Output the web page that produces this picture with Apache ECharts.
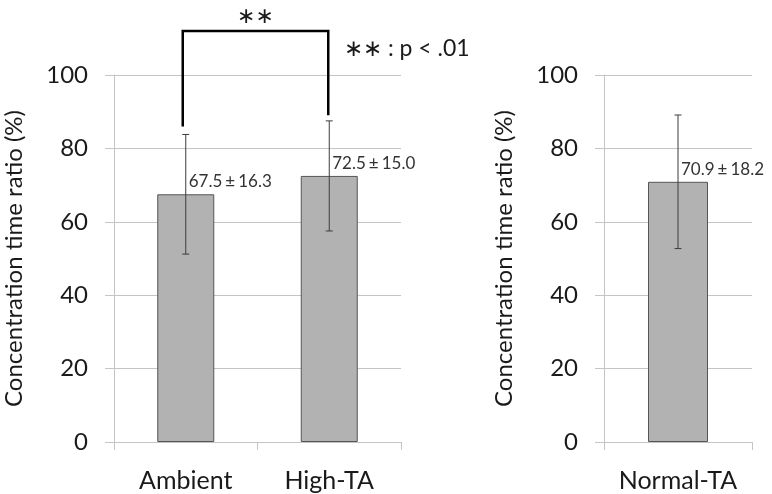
<!DOCTYPE html>
<html>
<head>
<meta charset="utf-8">
<script src="https://cdn.jsdelivr.net/npm/echarts@6/dist/echarts.min.js"></script>
<style>
  html, body { margin: 0; padding: 0; background: #fff; }
  #main { width: 772px; height: 494px; }
</style>
</head>
<body>
<div id="main"></div>
<script>
// data
const leftCats = ['Ambient', 'High-TA'];
const leftMeans = [67.5, 72.5];
const leftSD = [16.3, 15.0];
const rightCats = ['Normal-TA'];
const rightMeans = [70.9];
const rightSD = [18.2];
// significance bracket: left foot, right foot, top (in axis units)
const bracketVals = [86, 89, 112];
const sigMark = '\u2217\u2217';
const sigNote = '\u2217\u2217 : p < .01';
const yName = 'Concentration time ratio (%)';

const FONT = 'Lato';
const TXT = '#1a1a1a';
const GRIDC = '#c4c4c4';

const chart = echarts.init(document.getElementById('main'));

function errRender(params, api) {
  const x = api.value(0);
  const lo = api.coord([x, api.value(1)]);
  const hi = api.coord([x, api.value(2)]);
  const w = 3.5;
  const st = { stroke: '#3c3c3c', lineWidth: 1 };
  return {
    type: 'group',
    children: [
      { type: 'line', shape: { x1: lo[0], y1: lo[1], x2: hi[0], y2: hi[1] }, style: st },
      { type: 'line', shape: { x1: lo[0] - w, y1: lo[1], x2: lo[0] + w, y2: lo[1] }, style: st },
      { type: 'line', shape: { x1: hi[0] - w, y1: hi[1], x2: hi[0] + w, y2: hi[1] }, style: st }
    ]
  };
}

function bracketRender(params, api) {
  const a = api.coord([api.value(0), api.value(2)]);
  const b = api.coord([api.value(1), api.value(3)]);
  const topY = api.coord([api.value(0), api.value(4)])[1];
  const ax = a[0] - 3, bx = b[0] - 1;
  return {
    type: 'group',
    children: [
      {
        type: 'polyline',
        shape: { points: [[ax, a[1]], [ax, topY], [bx, topY], [bx, b[1]]] },
        style: { stroke: '#000', lineWidth: 2.5, fill: null }
      },
      {
        type: 'text',
        style: {
          text: sigMark, x: (ax + bx) / 2, y: topY - 3,
          align: 'center', verticalAlign: 'bottom',
          font: '22px "DejaVu Sans"', fill: TXT
        }
      }
    ]
  };
}

function yAxisCfg(gi) {
  return {
    type: 'value', gridIndex: gi, min: 0, max: 100, interval: 20,
    name: yName, nameLocation: 'middle', nameGap: 88,
    nameTextStyle: { fontFamily: FONT, fontSize: 24, color: TXT },
    axisLine: { show: true, lineStyle: { color: GRIDC, width: 1 } },
    axisTick: { show: true, length: 9, lineStyle: { color: GRIDC } },
    axisLabel: { margin: 26, fontFamily: FONT, fontSize: 24, color: TXT },
    splitLine: { lineStyle: { color: GRIDC, width: 1 } }
  };
}

function xAxisCfg(gi, cats) {
  return {
    type: 'category', gridIndex: gi, data: cats,
    axisLine: { lineStyle: { color: GRIDC, width: 1 } },
    axisTick: { show: true, length: 8, lineStyle: { color: GRIDC } },
    axisLabel: { margin: 26, fontFamily: FONT, fontSize: 25, color: TXT }
  };
}

function barLabel(sds) {
  return {
    show: true, position: 'top', distance: 4, align: 'left', offset: [3, 0],
    fontFamily: FONT, fontSize: 17, color: '#333',
    formatter: p => '{n|' + p.value.toFixed(1) + '}{pm|\u00b1}{n|' + sds[p.dataIndex].toFixed(1) + '}',
    rich: {
      n: { fontFamily: FONT, fontSize: 17, color: '#333' },
      pm: { fontFamily: FONT, fontSize: 17, color: '#333', padding: [0, 3, 0, 3] }
    }
  };
}

const barStyle = { color: '#b2b2b2', borderColor: '#555', borderWidth: 1 };

chart.setOption({
  animation: false,
  backgroundColor: '#fff',
  grid: [
    { left: 114, top: 75, right: 371, bottom: 52 },
    { left: 604, top: 75, right: 20, bottom: 52 }
  ],
  xAxis: [xAxisCfg(0, leftCats), xAxisCfg(1, rightCats)],
  yAxis: [yAxisCfg(0), yAxisCfg(1)],
  graphic: [
    {
      type: 'text', left: 344, top: 37,
      style: { text: sigNote, font: '23px Lato', fill: TXT }
    }
  ],
  series: [
    {
      type: 'bar', xAxisIndex: 0, yAxisIndex: 0, data: leftMeans,
      barWidth: 57, itemStyle: barStyle, label: barLabel(leftSD)
    },
    {
      type: 'custom', xAxisIndex: 0, yAxisIndex: 0, renderItem: errRender,
      data: leftMeans.map((m, i) => [i, m - leftSD[i], m + leftSD[i]]),
      encode: { x: 0, y: [1, 2] }, z: 5
    },
    {
      type: 'bar', xAxisIndex: 1, yAxisIndex: 1, data: rightMeans,
      barWidth: 60, itemStyle: barStyle, label: barLabel(rightSD)
    },
    {
      type: 'custom', xAxisIndex: 1, yAxisIndex: 1, renderItem: errRender,
      data: rightMeans.map((m, i) => [i, m - rightSD[i], m + rightSD[i]]),
      encode: { x: 0, y: [1, 2] }, z: 5
    },
    {
      type: 'custom', xAxisIndex: 0, yAxisIndex: 0, renderItem: bracketRender,
      clip: false, silent: true,
      data: [[0, 1, bracketVals[0], bracketVals[1], bracketVals[2]]],
      encode: { x: [0, 1], y: [2, 3, 4] }, z: 6
    }
  ]
});
window.addEventListener('resize', () => chart.resize());
</script>
</body>
</html>
